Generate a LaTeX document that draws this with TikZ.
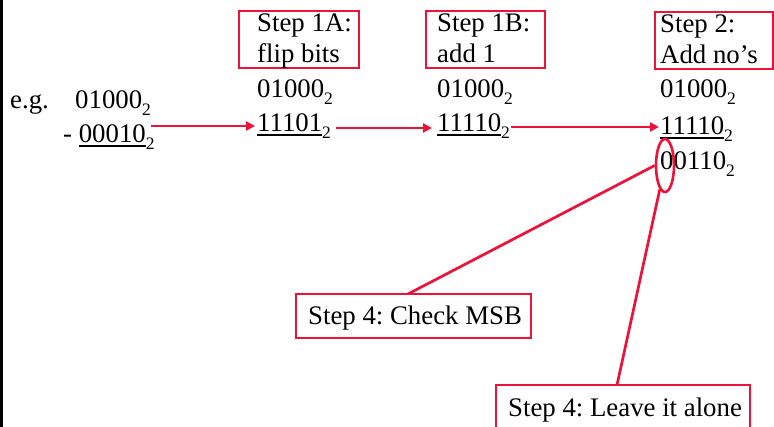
\documentclass[tikz,border=0pt]{standalone}
\usepackage{fontspec}
\setmainfont{Liberation Serif}
\usetikzlibrary{arrows.meta,shapes.geometric}
\definecolor{pred}{RGB}{236,18,58}
\newcommand\subtwo{\raisebox{-7pt}{\fontsize{17.5}{17.5}\selectfont 2}}
\newcommand\ulnum[1]{\setbox0\hbox{#1}\rlap{\rule[-4.5pt]{\wd0}{2pt}}\box0}
\frenchspacing
\begin{document}
\begin{tikzpicture}[x=1pt,y=-1pt,
  txt/.style={inner sep=0pt, anchor=base west, font=\fontsize{26.8}{31}\selectfont},
  stepbox/.style={draw=pred, line width=2.9pt, anchor=north west, inner sep=0pt, outer sep=0pt},
  arr/.style={draw=pred, line width=2.6pt, -{Triangle[length=9pt,width=9pt]}},
  conn/.style={draw=pred, line width=2.7pt}]
\clip (0,0) rectangle (774,427);
\useasboundingbox (0,0) rectangle (774,427);
\fill[black] (0,0) rectangle (3,427);
% step boxes
\node[stepbox, minimum width=120pt, minimum height=57pt] (b1a) at (239,11) {};
\node[stepbox, minimum width=119pt, minimum height=57pt] (b1b) at (426,11) {};
\node[stepbox, minimum width=118pt, minimum height=57pt] (b2) at (655,12) {};
\node[stepbox, minimum width=235pt, minimum height=44pt] (msb) at (296,294) {};
\node[stepbox, minimum width=254pt, minimum height=60pt] (leave) at (496,385) {};
% box texts
\node[txt] (t1a1) at (257,32) {Step 1A:};
\node[txt] (t1a2) at (257,63) {flip bits};
\node[txt] (t1b1) at (437,32) {Step 1B:};
\node[txt] (t1b2) at (437,63) {add 1};
\node[txt] (t21) at (660,33) {Step 2:};
\node[txt] (t22) at (660,64) {Add no’s};
\node[txt] (tmsb) at (308,325) {Step 4: Check MSB};
\node[txt] (tleave) at (508,417) {Step 4: Leave it alone};
% numbers
\node[txt] (eg) at (10,109) {e.g.};
\node[txt] (a0) at (75,109) {01000\subtwo};
\node[txt] (b0) at (63,143) {- \ulnum{00010}\subtwo};
\node[txt] (a1) at (257,98) {01000\subtwo};
\node[txt] (b1) at (257,132) {\ulnum{11101}\subtwo};
\node[txt] (a2) at (437,98) {01000\subtwo};
\node[txt] (b2n) at (437,132) {\ulnum{11110}\subtwo};
\node[txt] (a3) at (660,98) {01000\subtwo};
\node[txt] (b3) at (660,135) {\ulnum{11110}\subtwo};
\node[txt] (c3) at (660,170) {00110\subtwo};
% arrows
\draw[arr] ([shift={(-4,-17)}]b0.base east) -- ([shift={(-2,-6)}]b1.base west);
\draw[arr] ([shift={(5,-4)}]b1.base east) -- ([shift={(-5,-4)}]b2n.base west);
\draw[arr] ([shift={(1,-5)}]b2n.base east) -- ([shift={(-1,-8)}]b3.base west);
% MSB ellipse and connectors
\node[draw=pred, ellipse, line width=2.6pt, minimum width=18pt, minimum height=53pt, inner sep=0pt] (ell) at (665,165.5) {};
\draw[conn] (ell.west) -- ([xshift=-5.5pt]msb.north);
\draw[conn] (ell) -- ([xshift=-6pt]leave.north);
\end{tikzpicture}
\end{document}
